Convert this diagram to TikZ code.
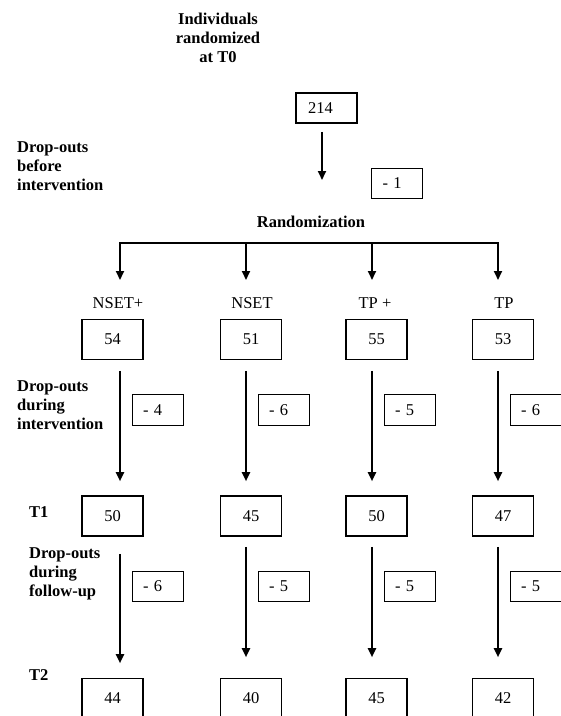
\documentclass[tikz,border=0pt]{standalone}
\usepackage{fontspec}
\setmainfont{Liberation Serif}
\usetikzlibrary{arrows.meta}
\begin{document}
\begin{tikzpicture}[x=1pt,y=-1pt,
  every node/.style={font=\fontsize{16.5}{19}\selectfont},
  lbl/.style={font=\fontsize{16.5}{19}\selectfont\bfseries, align=left, inner sep=0pt, anchor=west},
  bigbox/.style={draw, line width=1.6pt, minimum width=61pt, minimum height=40pt, inner sep=0pt},
  dropbox/.style={draw, line width=0.9pt, text width=29pt, inner xsep=11pt, inner ysep=0pt, minimum height=30.5pt, align=left},
  arr/.style={line width=2pt, -{Triangle[length=9pt,width=8pt]}}
]
\useasboundingbox (0,0) rectangle (561,716);
\clip (0,0) rectangle (561,716);
% titles
\node[font=\fontsize{16.5}{19}\selectfont\bfseries, align=center, inner sep=0pt] (title) at (218,38) {Individuals\\randomized\\at T0};
\node[draw, line width=1.6pt, text width=37pt, inner xsep=12pt, inner ysep=0pt, minimum height=30pt, align=left] (b214) at (326.5,108) {214};
\node[lbl] (dbefore) at (17,166) {Drop-outs\\before\\intervention};
\node[dropbox] (m1) at (397,183.5) {- 1};
\coordinate (e214) at (322,180);
\draw[arr, shorten <=8pt] (b214.south -| e214) -- (e214);
\node[font=\fontsize{16.5}{19}\selectfont\bfseries, inner sep=0pt] (rand) at (311,222) {Randomization};
% horizontal bar and junctions
\coordinate (j1) at (120,243);
\coordinate (j2) at (246,243);
\coordinate (j3) at (372,243);
\coordinate (j4) at (498,243);
\draw[line width=2.3pt] ([xshift=-1pt]j1) -- ([xshift=1pt]j4);
\foreach \i in {1,...,4}{
  \coordinate (e\i) at ([yshift=-37pt]j\i);
  \draw[arr] (j\i) -- (e\i);
}
% group labels
\node[inner sep=0pt] (g1) at (118,303) {NSET+};
\node[inner sep=0pt] (g2) at (252,303) {NSET};
\node[inner sep=0pt] (g3) at (375,303) {TP +};
\node[inner sep=0pt] (g4) at (504,303) {TP};
% row A
\node[bigbox] (a1) at (112.5,339.5) {54};
\node[bigbox] (a2) at (251,339.5) {51};
\node[bigbox] (a3) at (376.5,339.5) {55};
\node[bigbox] (a4) at (503,339.5) {53};
% drop-outs during intervention
\node[lbl] (dint) at (17,405) {Drop-outs\\during\\intervention};
\node[dropbox] (d1) at (157.5,410) {- 4};
\node[dropbox] (d2) at (283.5,410) {- 6};
\node[dropbox] (d3) at (409.5,410) {- 5};
\node[dropbox] (d4) at (535.5,410) {- 6};
% row T1
\node[lbl] (t1) at (29,512) {T1};
\node[bigbox] (b1) at (112.5,516) {50};
\node[bigbox] (b2) at (251,516) {45};
\node[bigbox] (b3) at (376.5,516) {50};
\node[bigbox] (b4) at (503,516) {47};
\foreach \i in {1,...,4}{
  \draw[arr, shorten <=10.5pt, shorten >=14pt] (a\i.south -| j\i) -- (b\i.north -| j\i);
}
% drop-outs during follow-up
\node[lbl] (dfol) at (29,574) {Drop-outs\\during\\follow-up};
\node[dropbox] (f1) at (157.5,586.5) {- 6};
\node[dropbox] (f2) at (283.5,586.5) {- 5};
\node[dropbox] (f3) at (409.5,586.5) {- 5};
\node[dropbox] (f4) at (535.5,586.5) {- 5};
% row T2
\node[lbl] (t2) at (29,675) {T2};
\node[bigbox] (c1) at (112.5,698.5) {44};
\node[bigbox] (c2) at (251,698.5) {40};
\node[bigbox] (c3) at (376.5,698.5) {45};
\node[bigbox] (c4) at (503,698.5) {42};
\draw[arr, shorten <=17pt, shorten >=14.5pt] (b1.south -| j1) -- (c1.north -| j1);
\foreach \i in {2,3,4}{
  \draw[arr, shorten <=10pt, shorten >=20.5pt] (b\i.south -| j\i) -- (c\i.north -| j\i);
}
\end{tikzpicture}
\end{document}
